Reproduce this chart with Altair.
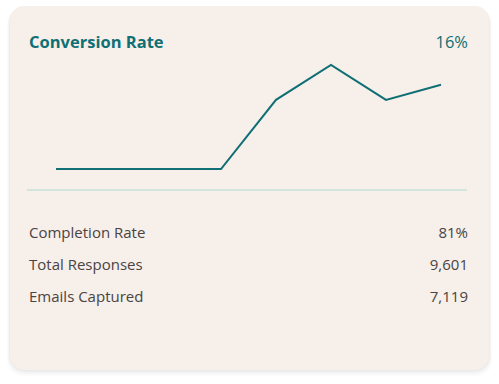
import altair as alt
import pandas as pd

# ---- data ----
periods = [0, 1, 2, 3, 4, 5, 6, 7]
conversion = [0, 0, 0, 0, 13.3, 20, 13.3, 16.2]
headline_title = ["Conversion Rate"]
headline_value = ["16%"]
row_labels = ["Completion Rate", "Total Responses", "Emails Captured"]
row_values = ["81%", "9,601", "7,119"]
row_index = [0, 1, 2]

TEAL = "#0f6f74"
TEXT = "#4a4442"
CARD = "#f6efea"
FONT = "Open Sans"

line_df = pd.DataFrame({"period": periods, "value": conversion})
rows_df = pd.DataFrame({"row": row_index, "label": row_labels, "val": row_values})
head_df = pd.DataFrame({"title": headline_title, "value": headline_value})
one = pd.DataFrame({"k": [0]})

# card shadow (soft layers) + card
shadows = []
for off, op in [(6, 0.015), (4, 0.025), (2, 0.035)]:
    shadows.append(
        alt.Chart(one).mark_rect(cornerRadius=16, fill="#000000", opacity=op).encode(
            x=alt.value(10 - off / 2), x2=alt.value(489 + off / 2),
            y=alt.value(6 + off / 3), y2=alt.value(370 + off)
        )
    )
card = alt.Chart(one).mark_rect(cornerRadius=14, fill=CARD).encode(
    x=alt.value(10), x2=alt.value(489), y=alt.value(6), y2=alt.value(370)
)

line = alt.Chart(line_df).mark_line(color=TEAL, strokeWidth=2).encode(
    x=alt.X("period:Q", scale=alt.Scale(domain=[0, 7], range=[56, 441]), axis=None),
    y=alt.Y("value:Q", scale=alt.Scale(domain=[0, 20], range=[169, 65]), axis=None),
)

rule = alt.Chart(one).mark_rule(color="#c6e2da", strokeWidth=1.5).encode(
    x=alt.value(27), x2=alt.value(467), y=alt.value(190)
)

title_txt = alt.Chart(head_df).mark_text(
    align="left", baseline="alphabetic", font=FONT, fontSize=16.5, fontWeight="bold", color=TEAL
).encode(x=alt.value(29), y=alt.value(48), text="title:N")

value_txt = alt.Chart(head_df).mark_text(
    align="right", baseline="alphabetic", font=FONT, fontSize=16.5, color=TEAL
).encode(x=alt.value(468), y=alt.value(48), text="value:N")

ry = alt.Y("row:Q", scale=alt.Scale(domain=[0, 2], range=[238, 302]), axis=None)
row_lab = alt.Chart(rows_df).mark_text(
    align="left", baseline="alphabetic", font=FONT, fontSize=15, color=TEXT
).encode(x=alt.value(29), y=ry, text="label:N")
row_val = alt.Chart(rows_df).mark_text(
    align="right", baseline="alphabetic", font=FONT, fontSize=15, color=TEXT
).encode(x=alt.value(468), y=ry, text="val:N")

chart = alt.layer(
    *shadows, card, line, rule, title_txt, value_txt, row_lab, row_val
).resolve_scale(x="independent", y="independent").properties(
    width=499, height=384, padding=0, autosize=alt.AutoSizeParams(type="none"),
    background="#ffffff"
).configure_view(stroke=None)

chart.save("out.html", embed_options={"renderer": "svg", "actions": False})
